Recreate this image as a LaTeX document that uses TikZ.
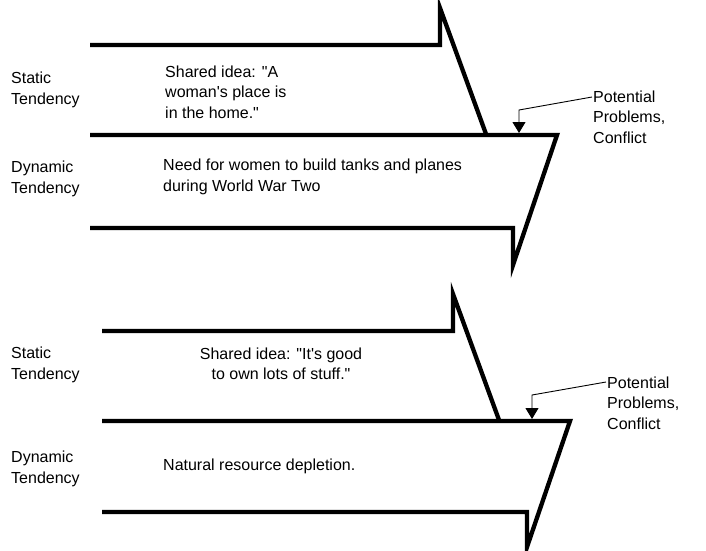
\documentclass[tikz,border=0pt]{standalone}
\usepackage{fontspec}
\setmainfont[Ligatures=TeXOff]{Liberation Sans}
\usetikzlibrary{arrows.meta}
\begin{document}
\begin{tikzpicture}[x=1pt,y=-1pt,
  heavy/.style={line width=4.3pt, line join=miter, line cap=butt},
  lbl/.style={inner sep=0pt, font=\fontsize{16}{20.5}\selectfont, align=left, anchor=west},
  clbl/.style={inner sep=0pt, font=\fontsize{16}{20.5}\selectfont, align=center},
  lead/.style={line width=0.9pt, -{Triangle[width=13pt,length=11pt]}}]
\useasboundingbox (0,0) rectangle (706,550);
% ---------- top diagram ----------
\draw[heavy] (90,45) -- (440,45) -- (440,8) -- (486,134);
\draw[heavy] (90,135) -- (557,135) -- (513,265) -- (513,228) -- (90,228);
\node[lbl] (sl1) at (11,90) {Static\\Tendency};
\node[lbl] (dl1) at (11,179) {Dynamic\\Tendency};
\node[lbl] (si1) at (165,92) {Shared idea: "A\\woman's place is\\in the home."};
\node[lbl] (di1) at (163,177) {Need for women to build tanks and planes\\during World War Two};
\node[lbl] (pc1) at (593,117) {Potential\\Problems,\\Conflict};
\coordinate (a1s) at (592,97);
\coordinate (a1b) at (519,110);
\coordinate (a1t) at (519,133);
\draw[lead] (a1s) -- (a1b) -- (a1t);
% ---------- bottom diagram ----------
\draw[heavy] (102,331) -- (453,331) -- (453,294) -- (499,420);
\draw[heavy] (102,421) -- (570,421) -- (527,547) -- (527,512) -- (102,512);
\node[lbl] (sl2) at (11,365) {Static\\Tendency};
\node[lbl] (dl2) at (11,469) {Dynamic\\Tendency};
\node[clbl] (si2) at (281,364) {Shared idea: "It's good\\to own lots of stuff."};
\node[lbl] (di2) at (163,466) {Natural resource depletion.};
\node[lbl] (pc2) at (607,403) {Potential\\Problems,\\Conflict};
\coordinate (a2s) at (606,382);
\coordinate (a2b) at (532,395);
\coordinate (a2t) at (532,419);
\draw[lead] (a2s) -- (a2b) -- (a2t);
\end{tikzpicture}
\end{document}
